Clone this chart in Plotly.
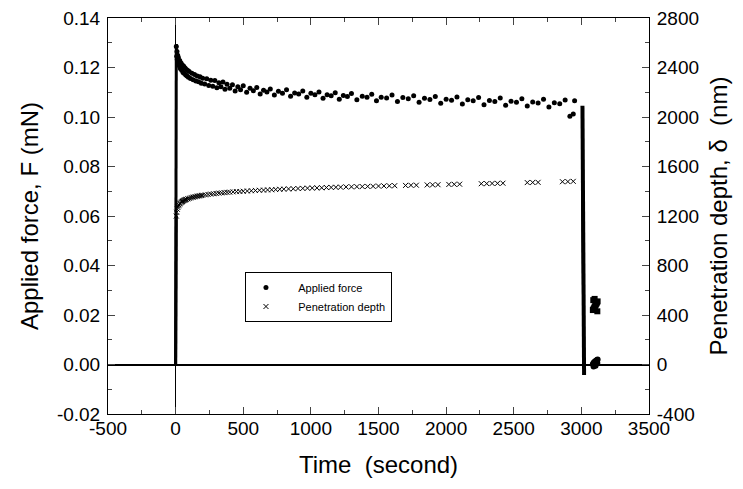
import plotly.graph_objects as go

# ---------------- data ----------------
# Applied force (mN)
force_load_t = [0, 0, 0.5, 1, 1.5, 2, 2.5, 3, 3.5, 4, 4.5, 5]
force_load_f = [0.0, 0.01, 0.02, 0.03, 0.045, 0.06, 0.075, 0.09, 0.105, 0.118, 0.126, 0.1295]

force_hold_t = [5, 10, 15, 20, 30, 40, 50, 60, 70, 80, 90, 100, 120, 140, 160, 180, 200,
                230, 260, 290, 320, 350, 380, 420, 460, 500, 550, 600, 650, 700, 760, 820,
                880, 940, 1000, 1060, 1120, 1180, 1240, 1300, 1380, 1450, 1520, 1600, 1680,
                1760, 1840, 1920, 2000, 2080, 2160, 2240, 2320, 2400, 2480, 2560, 2640, 2720,
                2800, 2880, 2950,
                8, 12, 18, 25, 35, 45, 55, 65, 75, 85, 95, 110, 130, 150, 170, 190, 215,
                245, 275, 305, 335, 365, 400, 440, 480, 525, 575, 625, 675, 730, 790, 850,
                910, 970, 1030, 1090, 1150, 1210, 1270, 1340, 1415, 1485, 1560, 1640, 1720,
                1800, 1880, 1960, 2040, 2120, 2200, 2280, 2360, 2440, 2520, 2600, 2680, 2760,
                2840, 2915, 2940]
force_hold_f = [0.1285, 0.1265, 0.1250, 0.1240, 0.1228, 0.1218, 0.1210, 0.1205, 0.1198, 0.1192,
                0.1188, 0.1184, 0.1177, 0.1172, 0.1166, 0.1163, 0.1157, 0.1155, 0.1148, 0.1147,
                0.1138, 0.1141, 0.1132, 0.1130, 0.1122, 0.1126, 0.1116, 0.1119, 0.1108, 0.1113,
                0.1104, 0.1110, 0.1097, 0.1105, 0.1096, 0.1101, 0.1090, 0.1098, 0.1087, 0.1095,
                0.1084, 0.1092, 0.1080, 0.1089, 0.1079, 0.1086, 0.1076, 0.1083, 0.1072, 0.1081,
                0.1070, 0.1079, 0.1067, 0.1077, 0.1064, 0.1074, 0.1061, 0.1072, 0.1058, 0.1069,
                0.1066,
                0.1245, 0.1232, 0.1220, 0.1208, 0.1196, 0.1189, 0.1180, 0.1176, 0.1170, 0.1166,
                0.1161, 0.1156, 0.1151, 0.1145, 0.1142, 0.1136, 0.1133, 0.1127, 0.1124, 0.1118,
                0.1122, 0.1112, 0.1116, 0.1105, 0.1110, 0.1100, 0.1106, 0.1093, 0.1101, 0.1089,
                0.1096, 0.1084, 0.1093, 0.1080, 0.1090, 0.1076, 0.1086, 0.1072, 0.1083, 0.1070,
                0.1080, 0.1066, 0.1077, 0.1063, 0.1074, 0.1060, 0.1071, 0.1056, 0.1068, 0.1053,
                0.1066, 0.1050, 0.1063, 0.1047, 0.1060, 0.1044, 0.1057, 0.1040, 0.1054, 0.1003,
                0.1012]

force_unload_t = [3008, 3009, 3010, 3011, 3012, 3013, 3014, 3015, 3016, 3017, 3018, 3019, 3020]
force_unload_f = [0.1045, 0.095, 0.085, 0.075, 0.065, 0.055, 0.045, 0.035, 0.025, 0.015, 0.005, -0.002, -0.0042]

force_end_t = [3085, 3092, 3100, 3108, 3115, 3120, 3090, 3105, 3118]
force_end_f = [0.0002, 0.0008, 0.0012, 0.0015, 0.0018, 0.0020, -0.0008, -0.0005, 0.0006]

# Penetration depth (nm)
depth_load_t = [0, 0.5, 1, 1.5, 2, 2.5, 3, 3.5, 4, 5]
depth_load_d = [0, 150, 300, 450, 600, 750, 900, 1050, 1150, 1200]

depth_hold_t = [5, 8, 12, 16, 20, 25, 30, 35, 40, 45, 50, 55, 60, 65, 70, 75, 80, 90, 100, 110,
                120, 130, 140, 150, 160, 170, 180, 190, 200, 220, 240, 260, 280, 300, 320, 340,
                360, 380, 400, 425, 450, 475, 500, 530, 560, 590, 620, 650, 680, 710, 740, 770,
                800, 835, 870, 905, 940, 975, 1010, 1045, 1080, 1115, 1150, 1185, 1220, 1260,
                1300, 1340, 1380, 1420, 1460, 1500, 1540, 1580, 1620, 1700, 1740, 1780, 1860,
                1900, 1940, 2020, 2060, 2100, 2260, 2300, 2340, 2380, 2420, 2600, 2640, 2680,
                2860, 2900, 2940]
depth_hold_d = [1200, 1230, 1255, 1270, 1282, 1290, 1298, 1304, 1310, 1314, 1318, 1322, 1325,
                1328, 1330, 1333, 1335, 1339, 1342, 1346, 1350, 1352, 1355, 1357, 1360, 1362,
                1364, 1366, 1368, 1371, 1374, 1377, 1380, 1382, 1385, 1387, 1389, 1391, 1393,
                1395, 1397, 1398, 1400, 1402, 1404, 1406, 1408, 1409, 1411, 1412, 1414, 1416,
                1417, 1419, 1420, 1422, 1423, 1425, 1426, 1427, 1428, 1430, 1431, 1432, 1433,
                1435, 1436, 1437, 1438, 1439, 1440, 1442, 1443, 1444, 1445, 1447, 1448, 1449,
                1451, 1452, 1453, 1455, 1456, 1457, 1461, 1462, 1463, 1464, 1465, 1470, 1471,
                1472, 1477, 1478, 1480]

depth_unload_t = [3008, 3010, 3012, 3014, 3016]
depth_unload_d = [1480, 1250, 1000, 750, 520]

depth_end_t = [3085, 3090, 3095, 3100, 3105, 3110, 3115, 3120, 3088, 3098, 3108, 3118]
depth_end_d = [440, 450, 460, 470, 480, 490, 500, 510, 520, 530, 500, 430]

x_ticks = [-500, 0, 500, 1000, 1500, 2000, 2500, 3000, 3500]
x_ticklabels = ["-500", "0", "500", "1000", "1500", "2000", "2500", "3000", "3500"]
y_ticks = [-0.02, 0.0, 0.02, 0.04, 0.06, 0.08, 0.10, 0.12, 0.14]
y_ticklabels = ["-0.02", "0.00", "0.02", "0.04", "0.06", "0.08", "0.10", "0.12", "0.14"]
y2_ticks = [-400, 0, 400, 800, 1200, 1600, 2000, 2400, 2800]
y2_ticklabels = ["-400", "0", "400", "800", "1200", "1600", "2000", "2400", "2800"]

# ---------------- figure ----------------
FONT = "Liberation Sans, Arial, sans-serif"
NB = "\u00a0"
fig = go.Figure()

fig.add_trace(go.Scatter(x=force_load_t, y=force_load_f, mode="lines", line=dict(color="black", width=3),
                         showlegend=False, hoverinfo="skip"))
fig.add_trace(go.Scatter(x=force_hold_t, y=force_hold_f, mode="markers",
                         name=NB * 4 + "Applied force",
                         marker=dict(symbol="circle", size=5, color="black")))
fig.add_trace(go.Scatter(x=force_unload_t, y=force_unload_f, mode="lines", line=dict(color="black", width=4),
                         showlegend=False, hoverinfo="skip"))
fig.add_trace(go.Scatter(x=force_end_t, y=force_end_f, mode="markers",
                         marker=dict(symbol="circle", size=6, color="black"), showlegend=False))

fig.add_trace(go.Scatter(x=depth_load_t, y=depth_load_d, mode="lines", yaxis="y2",
                         line=dict(color="black", width=3), showlegend=False, hoverinfo="skip"))
fig.add_trace(go.Scatter(x=depth_hold_t, y=depth_hold_d, mode="markers", yaxis="y2",
                         name=NB * 4 + "Penetration depth",
                         marker=dict(symbol="x-thin", size=5, color="black", line=dict(width=1, color="black"))))
fig.add_trace(go.Scatter(x=depth_unload_t, y=depth_unload_d, mode="lines", yaxis="y2",
                         line=dict(color="black", width=3), showlegend=False, hoverinfo="skip"))
fig.add_trace(go.Scatter(x=depth_end_t, y=depth_end_d, mode="markers", yaxis="y2",
                         marker=dict(symbol="square", size=6, color="black"), showlegend=False))

# page body has an 8px margin, so the figure is drawn 8px smaller and offset
fig.update_layout(
    width=735, height=481,
    margin=dict(l=100, r=94, t=10, b=75),
    paper_bgcolor="white", plot_bgcolor="white",
    font=dict(family=FONT, size=19, color="black"),
    xaxis=dict(range=[-500, 3500], tickvals=x_ticks, ticktext=x_ticklabels, ticks="inside",
               ticklen=7, tickwidth=1, automargin=False, ticklabelstandoff=-3,
               ticklabeloverflow="allow",
               showline=True, linecolor="black", linewidth=1, mirror="ticks",
               showgrid=False, zeroline=True, zerolinecolor="black", zerolinewidth=1,
               minor=dict(ticks="inside", ticklen=4, dtick=250, tick0=-500, showgrid=False),
               title=dict(text="Time" + NB + " (second)", font=dict(size=24), standoff=18),
               tickfont=dict(size=19)),
    yaxis=dict(range=[-0.02, 0.14], tickvals=y_ticks, ticktext=y_ticklabels, ticks="inside",
               ticklen=7, showline=True, linecolor="black", linewidth=1, showgrid=False,
               automargin=False, ticklabelstandoff=3, ticklabeloverflow="allow",
               zeroline=True, zerolinecolor="black", zerolinewidth=2,
               minor=dict(ticks="inside", ticklen=4, dtick=0.01, tick0=-0.02, showgrid=False),
               title=dict(text="Applied force, F (mN)", font=dict(size=24), standoff=11),
               tickfont=dict(size=19)),
    yaxis2=dict(range=[-400, 2800], tickvals=y2_ticks, ticktext=y2_ticklabels, ticks="inside",
                ticklen=7, automargin=False, ticklabelstandoff=3, ticklabeloverflow="allow",
                overlaying="y", side="right", showline=True, linecolor="black", linewidth=1,
                showgrid=False, zeroline=False,
                minor=dict(ticks="inside", ticklen=4, dtick=200, tick0=-400, showgrid=False),
                title=dict(text="Penetration depth, \u03b4" + NB + " (nm)", font=dict(size=24), standoff=12),
                tickfont=dict(size=19)),
    legend=dict(x=0.2532, y=0.3586, xanchor="left", yanchor="top", bgcolor="white",
                bordercolor="black", borderwidth=1, font=dict(size=11), itemwidth=30,
                tracegroupgap=0),
    showlegend=True,
)

fig.write_html("out.html")
